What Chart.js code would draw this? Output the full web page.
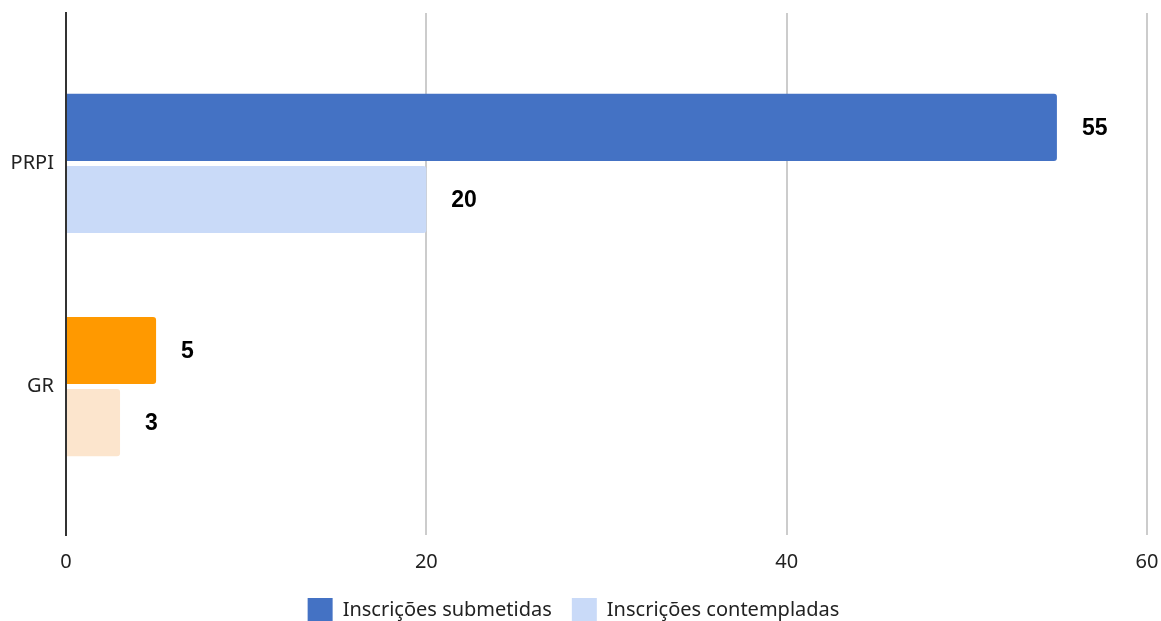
<!DOCTYPE html>
<html>
<head>
<meta charset="utf-8">
<script src="https://cdn.jsdelivr.net/npm/chart.js@4/dist/chart.umd.min.js"></script>
<style>
    html, body { margin: 0; padding: 0; background: #fff; overflow: hidden; }
    #wrap { width: 1161px; height: 633px; }
</style>
</head>
<body>
<div id="wrap"><canvas id="inscricoesChart" width="1161" height="633"></canvas></div>
<script>
const categorias = ['PRPI', 'GR'];
const submetidas = [55, 5];
const contempladas = [20, 3];
const xTicks = [0, 20, 40, 60];

const coresSubmetidas = ['#4472C4', '#FF9900'];
const coresContempladas = ['#C9DAF8', '#FCE5CD'];

document.addEventListener('DOMContentLoaded', function () {
    const ctx = document.getElementById('inscricoesChart');
    const fonte = '"Noto Sans", "Open Sans", sans-serif';

    // rótulos de valor ao lado de cada barra
    const valueLabels = {
        id: 'valueLabels',
        afterDatasetsDraw(chart) {
            const c = chart.ctx;
            c.save();
            c.font = 'bold 23px "Liberation Sans", Arial, sans-serif';
            c.fillStyle = '#000';
            c.textAlign = 'left';
            c.textBaseline = 'middle';
            chart.data.datasets.forEach((ds, i) => {
                chart.getDatasetMeta(i).data.forEach((bar, j) => {
                    c.fillText(ds.data[j].x, bar.x + 25, bar.y + 1);
                });
            });
            c.restore();
        }
    };

    const pick = (cores) => (c) => c.type === 'data' ? cores[c.dataIndex] : cores[0];

    new Chart(ctx, {
        type: 'bar',
        data: {
            datasets: [{
                label: 'Inscrições submetidas',
                data: submetidas.map((v, i) => ({ x: v, y: i })),
                backgroundColor: pick(coresSubmetidas),
                borderRadius: 3,
            }, {
                label: 'Inscrições contempladas',
                data: contempladas.map((v, i) => ({ x: v, y: i })),
                backgroundColor: pick(coresContempladas),
                borderRadius: 3,
            }]
        },
        options: {
            responsive: false,
            animation: false,
            indexAxis: 'y',
            categoryPercentage: 0.647,
            barPercentage: 0.93,
            layout: { padding: { left: 0, right: 14, top: 13, bottom: 0 } },
            scales: {
                x: {
                    type: 'linear',
                    min: 0,
                    max: 60,
                    afterBuildTicks: s => { s.ticks = xTicks.map(v => ({ value: v })); },
                    afterFit: s => { s.paddingLeft = 0; s.paddingRight = 0; s.height = s.height - 11; },
                    grid: {
                        color: c => c.tick && c.tick.value === 0 ? 'rgba(0,0,0,0)' : '#cccccc',
                        lineWidth: 2,
                        drawTicks: false,
                    },
                    border: { display: false },
                    ticks: {
                        padding: 15,
                        color: '#222',
                        font: { family: fonte, size: 20 },
                    }
                },
                y: {
                    type: 'linear',
                    reverse: true,
                    offset: false,
                    min: -0.674,
                    max: 1.665,
                    afterBuildTicks: s => { s.ticks = categorias.map((_, i) => ({ value: i })); },
                    afterFit: s => { s.width = 66; s.paddingTop = 0; s.paddingBottom = 0; },
                    grid: { display: false, drawTicks: false, offset: false },
                    border: { display: true, color: '#333', width: 2 },
                    ticks: {
                        padding: 12,
                        color: '#222',
                        font: { family: fonte, size: 20 },
                        callback: v => categorias[v],
                    }
                }
            },
            plugins: {
                legend: {
                    position: 'bottom',
                    labels: {
                        boxWidth: 25,
                        boxHeight: 25,
                        padding: 20,
                        color: '#222',
                        font: { family: fonte, size: 20 },
                    }
                },
                tooltip: { enabled: false }
            }
        },
        plugins: [valueLabels]
    });
});
</script>
</body>
</html>
